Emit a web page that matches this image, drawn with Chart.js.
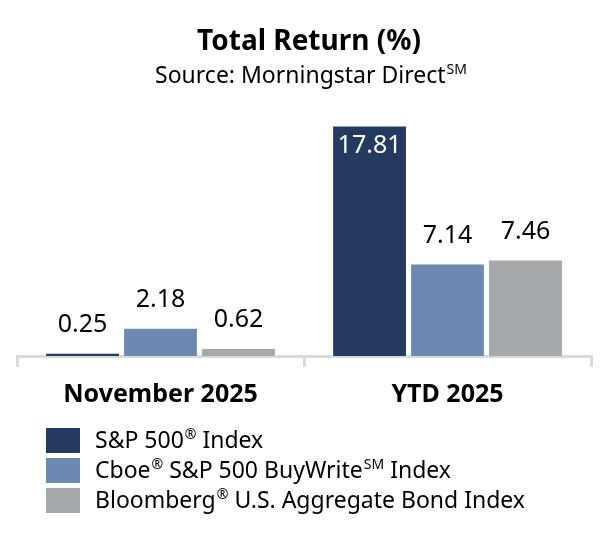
<!DOCTYPE html>
<html>
<head>
<meta charset="utf-8">
<script src="https://cdn.jsdelivr.net/npm/chart.js@4/dist/chart.umd.min.js"></script>
<style>
  html, body { margin: 0; padding: 0; background: #fff; }
  #wrap { width: 612px; height: 550px; }
</style>
</head>
<body>
<div id="wrap"><canvas id="chart" width="612" height="550"></canvas></div>
<script>
// data
const categories = ["November 2025", "YTD 2025"];
const seriesNames = ["S&P 500® Index", "Cboe® S&P 500 BuyWrite℠ Index", "Bloomberg® U.S. Aggregate Bond Index"];
const sp500 = [0.25, 17.81];
const buyWrite = [2.18, 7.14];
const aggBond = [0.62, 7.46];
const colors = ["#243a60", "#6c8ab1", "#a4a9ac"];

const FONT = "'Noto Sans', 'Open Sans', sans-serif";

// draw text with ® and ℠ as small raised marks, left aligned, middle baseline
function drawRich(ctx, text, x, y, size, weight) {
  const parts = text.split(/([®℠])/);
  let cx = x;
  parts.forEach(p => {
    if (!p) return;
    if (p === "®" || p === "℠") {
      const s = p === "®" ? "®" : "SM";
      ctx.font = weight + " " + Math.round(size * 0.6) + "px " + FONT;
      ctx.fillText(s, cx + 1, y - size * 0.28);
      cx += ctx.measureText(s).width + 1;
    } else {
      ctx.font = weight + " " + size + "px " + FONT;
      ctx.fillText(p, cx, y);
      cx += ctx.measureText(p).width;
    }
  });
  return cx - x;
}

function richWidth(ctx, text, size, weight) {
  ctx.save();
  ctx.globalAlpha = 0;
  const w = drawRich(ctx, text, 0, -100, size, weight);
  ctx.restore();
  return w;
}

const decorations = {
  id: "decorations",
  afterDatasetsDraw(chart) {
    const ctx = chart.ctx;
    ctx.save();
    ctx.textAlign = "center";
    ctx.textBaseline = "middle";

    chart.data.datasets.forEach((ds, i) => {
      const meta = chart.getDatasetMeta(i);
      meta.data.forEach((bar, j) => {
        const v = ds.data[j];
        ctx.font = "25px " + FONT;
        if (v > 15) {
          ctx.fillStyle = "#fff";
          ctx.fillText(v.toFixed(2), bar.x, bar.y + 20);
        } else {
          ctx.fillStyle = "#000";
          ctx.fillText(v.toFixed(2), bar.x, bar.y - 28);
        }
      });
    });

    ctx.fillStyle = "#000";
    ctx.font = "bold 28px " + FONT;
    ctx.fillText("Total Return (%)", 309, 42);

    ctx.textAlign = "left";
    const sub = "Source: Morningstar Direct℠";
    const sw = richWidth(ctx, sub, 23, "normal");
    ctx.fillStyle = "#000";
    drawRich(ctx, sub, 311 - sw / 2, 76, 23, "normal");

    // legend
    chart.data.datasets.forEach((ds, i) => {
      const y = 440 + i * 30;
      ctx.fillStyle = ds.backgroundColor;
      ctx.fillRect(46, y - 12, 34, 25);
      ctx.fillStyle = "#000";
      drawRich(ctx, ds.label, 95, y + 1, 23, "normal");
    });
    ctx.restore();
  }
};

new Chart(document.getElementById("chart"), {
  type: "bar",
  data: {
    labels: categories,
    datasets: [
      { label: seriesNames[0], data: sp500, backgroundColor: colors[0] },
      { label: seriesNames[1], data: buyWrite, backgroundColor: colors[1] },
      { label: seriesNames[2], data: aggBond, backgroundColor: colors[2] },
    ].map(d => ({ ...d, borderColor: "rgba(255,255,255,0.5)", borderWidth: 1,
                  categoryPercentage: 0.815, barPercentage: 0.96 })),
  },
  options: {
    responsive: false,
    animation: false,
    layout: { padding: { left: 17, right: 21, top: 110, bottom: 127 } },
    plugins: {
      legend: { display: false },
      title: { display: false },
      tooltip: { enabled: false },
    },
    scales: {
      y: { display: false, min: 0, max: 19 },
      x: {
        border: { display: true, color: "#d9d9d9", width: 3 },
        grid: { drawOnChartArea: false, color: "#d9d9d9", lineWidth: 3, tickLength: 11 },
        ticks: { color: "#000", padding: 13, font: { family: FONT, size: 25, weight: "bold" } },
      },
    },
  },
  plugins: [decorations],
});
</script>
</body>
</html>
